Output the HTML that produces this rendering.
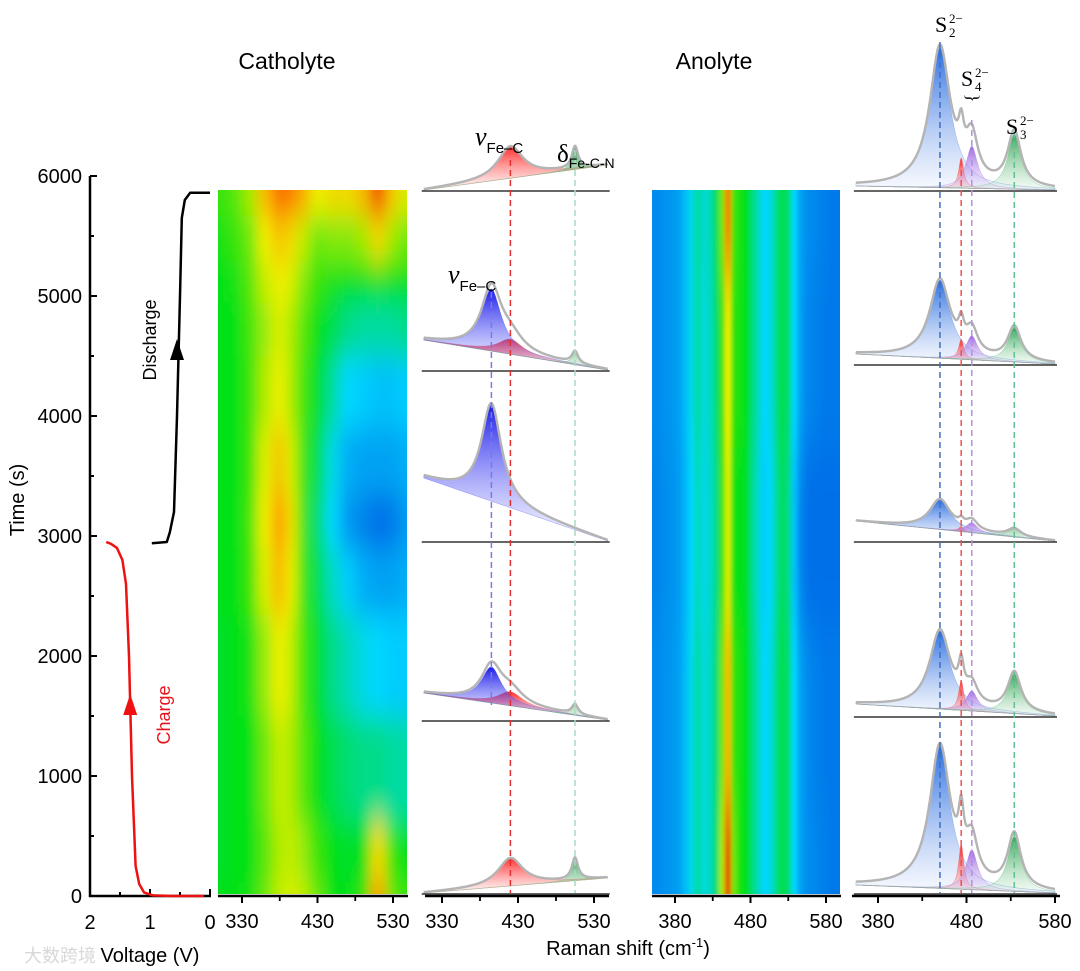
<!DOCTYPE html>
<html><head><meta charset="utf-8"><style>
html,body{margin:0;padding:0;background:#fff;width:1080px;height:971px;overflow:hidden;}
svg{display:block;font-family:"Liberation Sans",sans-serif;}
</style></head><body>
<svg id="fig" width="1080" height="971" viewBox="0 0 1080 971" xmlns="http://www.w3.org/2000/svg">
<defs>
<filter id="blurC" x="-10%" y="-10%" width="120%" height="120%"><feGaussianBlur stdDeviation="6 16"/></filter>
<filter id="blurA" x="-10%" y="-10%" width="120%" height="120%"><feGaussianBlur stdDeviation="2 30"/></filter>
<clipPath id="clipC"><rect x="218" y="190" width="189" height="704"/></clipPath>
<clipPath id="clipA"><rect x="652" y="190" width="188" height="704"/></clipPath>
<linearGradient id="gRed" x1="0" y1="0" x2="0" y2="1"><stop offset="0" stop-color="#ff2020" stop-opacity="0.95"/><stop offset="1" stop-color="#ff8080" stop-opacity="0.08"/></linearGradient>
<linearGradient id="gBlue" x1="0" y1="0" x2="0" y2="1"><stop offset="0" stop-color="#1a1ae8" stop-opacity="1"/><stop offset="1" stop-color="#8080ff" stop-opacity="0.08"/></linearGradient>
<linearGradient id="gSBlue" x1="0" y1="0" x2="0" y2="1"><stop offset="0" stop-color="#2a6ee0" stop-opacity="1"/><stop offset="1" stop-color="#90b0f0" stop-opacity="0.08"/></linearGradient>
<linearGradient id="gGreen" x1="0" y1="0" x2="0" y2="1"><stop offset="0" stop-color="#30a050" stop-opacity="0.95"/><stop offset="1" stop-color="#90d0a0" stop-opacity="0.1"/></linearGradient>
<linearGradient id="gPurple" x1="0" y1="0" x2="0" y2="1"><stop offset="0" stop-color="#9a60e0" stop-opacity="0.95"/><stop offset="1" stop-color="#d0b0f0" stop-opacity="0.1"/></linearGradient>
</defs>

<text x="287" y="69" font-size="23" text-anchor="middle">Catholyte</text>
<text x="714" y="69" font-size="23" text-anchor="middle">Anolyte</text>

<g stroke="#000" stroke-width="2.5" fill="none">
<line x1="90" y1="176" x2="90" y2="897"/>
<line x1="89" y1="896" x2="211" y2="896"/>
</g>
<g id="vticks"></g>
<text transform="translate(24,500) rotate(-90)" font-size="20" text-anchor="middle">Time (s)</text>
<text x="150" y="962" font-size="20" text-anchor="middle">Voltage (V)</text>
<text x="60" y="962" font-size="18" fill="#d8d8d8" text-anchor="middle" font-family="'Liberation Sans','Noto Sans CJK SC',sans-serif">大数跨境</text>
<g id="curves"></g>
<text transform="translate(156,340) rotate(-90)" font-size="18" text-anchor="middle">Discharge</text>
<text transform="translate(170,715) rotate(-90)" font-size="18" fill="#e8141c" text-anchor="middle">Charge</text>

<g id="heatC" clip-path="url(#clipC)"><g id="heatCi" filter="url(#blurC)"></g></g>
<g id="heatA" clip-path="url(#clipA)"><g id="heatAi" filter="url(#blurA)"></g></g>
<g id="specC"></g>
<g id="specA"></g>
<g id="xaxes"></g>
<text x="628" y="955" font-size="20" text-anchor="middle">Raman shift (cm<tspan dy="-8" font-size="13">-1</tspan><tspan dy="8">)</tspan></text>

<g font-family="'Liberation Serif',serif">
<text x="475" y="145" font-size="26" font-style="italic">ν<tspan font-family="'Liberation Sans',sans-serif" font-style="normal" font-size="15" dy="8">Fe–C</tspan></text>
<text x="557" y="162" font-size="25">δ<tspan font-family="'Liberation Sans',sans-serif" font-size="14" dy="6">Fe-C-N</tspan></text>
<text x="448" y="283" font-size="26" font-style="italic">ν<tspan font-family="'Liberation Sans',sans-serif" font-style="normal" font-size="15" dy="8">Fe–C</tspan></text>
<g><text x="935" y="32" font-size="22">S</text><text x="949" y="37" font-size="13">2</text><text x="949" y="23" font-size="13">2−</text></g>
<g><text x="961" y="86" font-size="22">S</text><text x="975" y="91" font-size="13">4</text><text x="975" y="77" font-size="13">2−</text></g>
<text transform="translate(967,98) rotate(90)" font-size="18" text-anchor="middle">}</text>
<g><text x="1006" y="134" font-size="22">S</text><text x="1020" y="139" font-size="13">3</text><text x="1020" y="125" font-size="13">2−</text></g>
</g>
</svg>
<script>
// ---------- data ----------
const timeTicks = [0,1000,2000,3000,4000,5000,6000];
const voltTicks = [2,1,0];
const chargeV = [0.1,0.6,0.95,1.1,1.18,1.24,1.3,1.35,1.4,1.46,1.55,1.65,1.73];
const chargeT = [0,0,5,30,100,250,1000,2000,2600,2800,2900,2935,2950];
const dischargeV = [0.97,0.72,0.67,0.6,0.55,0.5,0.47,0.42,0.33,0.2,0.0];
const dischargeT = [2940,2950,3030,3200,4000,5000,5650,5800,5860,5860,5860];

const catCm = [300,320,340,360,380,395,410,430,450,470,490,510,530,545];
const catT = [0,250,1000,2000,2700,3100,3600,4200,4800,5100,5500,5850];
const catZ = [
[.5,.5,.52,.6,.68,.7,.68,.6,.5,.5,.55,.85,.6,.55],
[.48,.5,.5,.58,.66,.68,.64,.55,.5,.48,.5,.75,.55,.5],
[.48,.5,.5,.6,.68,.66,.58,.5,.45,.42,.4,.4,.38,.38],
[.48,.5,.52,.64,.72,.68,.56,.48,.4,.36,.32,.3,.28,.28],
[.5,.5,.55,.7,.8,.72,.55,.45,.35,.28,.22,.2,.2,.22],
[.5,.5,.56,.72,.84,.74,.55,.42,.3,.18,.14,.1,.12,.18],
[.5,.5,.55,.7,.78,.7,.55,.45,.32,.22,.2,.2,.2,.22],
[.5,.5,.55,.66,.72,.66,.56,.48,.38,.3,.28,.26,.26,.28],
[.5,.5,.56,.64,.7,.66,.58,.5,.45,.4,.38,.38,.38,.4],
[.5,.52,.58,.68,.72,.7,.62,.55,.52,.5,.5,.52,.5,.5],
[.52,.55,.6,.72,.78,.75,.68,.6,.62,.62,.65,.75,.65,.6],
[.55,.58,.65,.8,.9,.88,.82,.72,.75,.75,.8,.95,.78,.7]];

const anoCm = [338,346,354,362,370,378,386,394,402,410,418,426,434,442,450,458,466,474,482,490,498,506,514,522,530,538,546,554,562,570,578,586];
const anoT = [0,1500,3000,4500,5850];
const anoZ = [
[.15,.15,.15,.16,.17,.18,.2,.25,.32,.38,.33,.35,.42,.65,.97,.6,.52,.5,.42,.36,.3,.32,.4,.46,.42,.3,.2,.16,.15,.14,.13,.12],
[.15,.15,.15,.16,.17,.18,.2,.25,.32,.38,.33,.35,.42,.6,.8,.55,.52,.5,.42,.36,.3,.32,.4,.46,.42,.3,.2,.16,.14,.13,.12,.12],
[.14,.14,.14,.15,.16,.17,.19,.24,.3,.36,.32,.34,.4,.55,.7,.52,.5,.48,.4,.34,.28,.3,.38,.44,.4,.26,.15,.11,.1,.1,.1,.1],
[.15,.15,.15,.16,.17,.18,.2,.25,.32,.38,.33,.35,.42,.55,.72,.54,.52,.5,.42,.36,.3,.32,.4,.46,.42,.3,.2,.15,.14,.13,.12,.12],
[.15,.15,.15,.16,.17,.18,.2,.25,.32,.38,.34,.36,.44,.6,.88,.56,.52,.5,.42,.36,.3,.32,.4,.46,.42,.3,.2,.16,.15,.14,.13,.12]];

const catBase = [190,370,541,720,893];
const catBgL = [0,30,63,27,0];
const catBgR = [25,0,0,0,15];
const catRedAmp = [32,15,0,14,28];
const catBlueAmp = [0,62,98,36,0];
const catGreenAmp = [22,12,0,10,22];
const catCenters = [420,395,505];
const catWidths = [20,16,5];

const anoBase = [190,364,541,716,893];
const anoBgL = [4,10,20,12,8];
const anoBgR = [0,0,0,0,0];
const anoS2Amp = [140,78,30,78,142];
const anoRedAmp = [30,20,5,30,45];
const anoPurAmp = [42,24,10,20,40];
const anoGrnAmp = [55,34,8,40,55];
const anoCenters = [450,474,486,534];
const anoWidths = [14,3.5,8,9];

const catAxisTicks = [330,430,530];
const anoAxisTicks = [380,480,580];

// ---------- helpers ----------
const NS="http://www.w3.org/2000/svg";
function mk(tag,attrs,parent){const e=document.createElementNS(NS,tag);for(const k in attrs)e.setAttribute(k,attrs[k]);parent.appendChild(e);return e;}
const tY = t => 896 - t*0.12;
const vX = v => 210 - v*60;
const xCatH = cm => 242 + (cm-330)*0.755;
const xAnoH = cm => 675 + (cm-380)*0.755;
const xCatS = cm => 442 + (cm-330)*0.76;
const xAnoS = cm => 878 + (cm-380)*0.885;
function jet(v){
 const st=[[0,[0,60,220]],[0.3,[0,215,255]],[0.5,[0,225,20]],[0.72,[240,240,0]],[0.86,[255,140,0]],[1,[235,30,0]]];
 v=Math.max(0,Math.min(1,v));
 for(let i=1;i<st.length;i++){if(v<=st[i][0]){const a=st[i-1],b=st[i],f=(v-a[0])/(b[0]-a[0]);
 return 'rgb('+a[1].map((c,j)=>Math.round(c+(b[1][j]-c)*f)).join(',')+')';}}
 return 'rgb(235,30,0)';
}

// ---------- voltage axes ----------
const vt=document.getElementById('vticks');
for(let t=0;t<=6000;t+=500){
 const major=t%1000===0;
 const l=mk('line',{x1:90,x2:major?97:94,y1:tY(t),y2:tY(t),stroke:'#000','stroke-width':2},vt);
 
 
}
timeTicks.forEach(t=>{const e=mk('text',{x:82,y:tY(t)+7,'font-size':20,'text-anchor':'end'},vt);e.textContent=t;
 
 });
[2,1.5,1,0.5,0].forEach(v=>{const major=Number.isInteger(v);
 const l=mk('line',{x1:vX(v),x2:vX(v),y1:896,y2:major?889:892,stroke:'#000','stroke-width':2},vt);
 
 });
voltTicks.forEach(v=>{const e=mk('text',{x:vX(v),y:929,'font-size':20,'text-anchor':'middle'},vt);e.textContent=v;
 
 });

const cg=document.getElementById('curves');
function poly(V,T){return V.map((v,i)=>(i?'L':'M')+vX(v).toFixed(1)+','+tY(T[i]).toFixed(1)).join(' ');}
const cp=mk('path',{d:poly(chargeV,chargeT),stroke:'#ee1111','stroke-width':2.5,fill:'none','stroke-linejoin':'round'},cg);


const dp=mk('path',{d:poly(dischargeV,dischargeT),stroke:'#000','stroke-width':2.5,fill:'none','stroke-linejoin':'round'},cg);


const ax=vX(1.33);
const ca=mk('path',{d:'M'+ax+',694 L'+(ax-7)+',715 L'+(ax+7)+',715 Z',fill:'#ee1111'},cg);


const da=mk('path',{d:'M177,339 L170,360 L184,360 Z',fill:'#000'},cg);



// ---------- heatmaps ----------
function heat(gid,cms,ts,Z,xf){
 const g=document.getElementById(gid);
 const edges=(arr)=>arr.map((v,i)=>[i===0?v-(arr[1]-arr[0])*3:(arr[i-1]+v)/2, i===arr.length-1?v+(v-arr[i-1])*3:(v+arr[i+1])/2]);
 const ce=edges(cms), te=edges(ts);
 Z.forEach((row,r)=>row.forEach((v,c)=>{
  const x0=xf(ce[c][0]),x1=xf(ce[c][1]),y0=tY(te[r][1]),y1=tY(te[r][0]);
  const e=mk('rect',{x:x0.toFixed(1),y:y0.toFixed(1),width:(x1-x0+0.8).toFixed(1),height:(y1-y0+0.8).toFixed(1),fill:jet(v)},g);
  
  
 }));
}
heat('heatCi',catCm,catT,catZ,xCatH);
heat('heatAi',anoCm,anoT,anoZ,xAnoH);

// ---------- spectra ----------
const lor=(x,c,w)=>1/(1+((x-c)/w)**2);
function spectra(gid,xf,cmMin,cmMax,bases,bgL,bgR,ampsList,centers,widths,grads,strokeCols){
 const g=document.getElementById(gid);
 bases.forEach((b,i)=>{
  const bg=cm=>bgL[i]+(bgR[i]-bgL[i])*(cm-cmMin)/(cmMax-cmMin);
  const xs=[];for(let cm=cmMin;cm<=cmMax;cm+=0.5)xs.push(cm);
  ampsList.forEach((amps,k)=>{
   const a=amps[i]; if(a<=0)return;
   let top='',bot='';
   xs.forEach((cm,j)=>{top+=(j?'L':'M')+xf(cm).toFixed(1)+','+(b-bg(cm)-a*lor(cm,centers[k],widths[k])).toFixed(1);});
   for(let j=xs.length-1;j>=0;j--)bot+='L'+xf(xs[j]).toFixed(1)+','+(b-bg(xs[j])).toFixed(1);
   const p=mk('path',{d:top+bot+'Z',fill:'url(#'+grads[k]+')',stroke:strokeCols[k],'stroke-width':0.6,'stroke-opacity':0.5},g);
   
   
  });
  let d='';
  xs.forEach((cm,j)=>{let y=bg(cm);ampsList.forEach((amps,k)=>{y+=amps[i]*lor(cm,centers[k],widths[k]);});
   d+=(j?'L':'M')+xf(cm).toFixed(1)+','+(b-y).toFixed(1);});
  const s=mk('path',{d:d,fill:'none',stroke:'#b4b4b4','stroke-width':2.4},g);
  
  
  const bl=mk('line',{x1:xf(cmMin)-2,x2:xf(cmMax)+2,y1:b+1,y2:b+1,stroke:'#333','stroke-width':1.5},g);
  
  
 });
}
spectra('specC',xCatS,306,548,catBase,catBgL,catBgR,[catRedAmp,catBlueAmp,catGreenAmp],catCenters,catWidths,['gRed','gBlue','gGreen'],['#f06060','#6060f0','#60c080']);
spectra('specA',xAnoS,355,580,anoBase,anoBgL,anoBgR,[anoS2Amp,anoRedAmp,anoPurAmp,anoGrnAmp],anoCenters,anoWidths,['gSBlue','gRed','gPurple','gGreen'],['#6090e0','#f06060','#b080e0','#60c080']);

const dg=document.getElementById('specC');
function dash(x,y1,y2,col,g){const l=mk('line',{x1:x,x2:x,y1:y1,y2:y2,stroke:col,'stroke-width':1.5,'stroke-dasharray':'6,4'},g);
 
 }
dash(xCatS(catCenters[1]),292,705,'#7878e8',dg);
dash(xCatS(catCenters[0]),160,893,'#e03030',dg);
dash(xCatS(catCenters[2]),150,893,'#a8dcc0',dg);
const ag=document.getElementById('specA');
dash(xAnoS(anoCenters[0]),42,893,'#4070c0',ag);
dash(xAnoS(anoCenters[1]),160,893,'#f05050',ag);
dash(xAnoS(anoCenters[2]),120,893,'#b090e0',ag);
dash(xAnoS(anoCenters[3]),132,893,'#60c090',ag);

// ---------- x axes ----------
const xa=document.getElementById('xaxes');
function xaxis(x0,x1,ticks,xf,minor){
 const l=mk('line',{x1:x0,x2:x1,y1:896,y2:896,stroke:'#000','stroke-width':2.5},xa);
 
 
 minor.forEach(cm=>{const t=mk('line',{x1:xf(cm),x2:xf(cm),y1:896,y2:901,stroke:'#000','stroke-width':1.8},xa);
  
  });
 ticks.forEach(cm=>{const t=mk('line',{x1:xf(cm),x2:xf(cm),y1:896,y2:903,stroke:'#000','stroke-width':2},xa);
  
  
  const e=mk('text',{x:xf(cm),y:928,'font-size':20,'text-anchor':'middle'},xa);e.textContent=cm;
  
  });
}
xaxis(218,408,catAxisTicks,xCatH,[380,480]);
xaxis(425,609,catAxisTicks,xCatS,[380,480]);
xaxis(652,841,anoAxisTicks,xAnoH,[430,530]);
xaxis(852,1060,anoAxisTicks,xAnoS,[430,530]);
</script>
</body></html>
